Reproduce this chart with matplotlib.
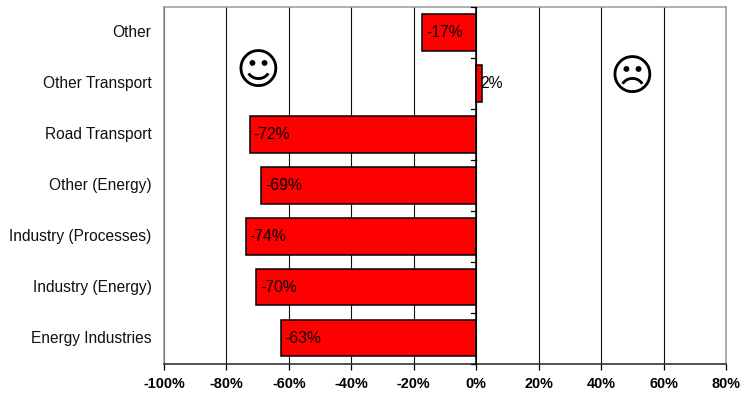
import matplotlib
matplotlib.use("Agg")
from matplotlib import pyplot as plt
from matplotlib.transforms import ScaledTranslation

categories = ["Energy Industries", "Industry (Energy)", "Industry (Processes)",
	"Other (Energy)", "Road Transport", "Other Transport", "Other"]
changes = [-62.6, -70.4, -73.8, -68.9, -72.5, 1.9, -17.3]
bar_labels = ["-63%", "-70%", "-74%", "-69%", "-72%", "2%", "-17%"]
x_ticks = [-100, -80, -60, -40, -20, 0, 20, 40, 60, 80]

plt.rcParams['font.family'] = ['Liberation Sans', 'DejaVu Sans']

W, H = 741, 396
fig = plt.figure(figsize=(W / 100, H / 100), dpi=100)
ax = fig.add_axes([164 / W, 1 - 363.5 / H, 562 / W, 356.5 / H])

ax.set_xlim(-100, 80)
ax.set_ylim(-0.5, 6.5)

# vertical gridlines go under the bars
ax.set_axisbelow(True)
ax.grid(True, axis='x', color='#111111', linewidth=0.8)

pos = range(len(categories))
ax.barh(pos, changes, height=0.72, color='#ff0000', edgecolor='black', linewidth=1.1, zorder=3)

# the category axis sits on the zero line
ax.axvline(0, color='black', linewidth=1.1, zorder=4)
for i in range(len(categories) + 1):
	ax.plot([-1.6, 0], [i - 0.5, i - 0.5], color='black', linewidth=0.9, zorder=4, clip_on=False)

for i, val in enumerate(changes):
	start = val if val < 0 else 0
	ax.text(start + 1.2 if val < 0 else val - 0.6, i, bar_labels[i], fontsize=11.3,
		ha='left', va='center', color='black', zorder=5)

ax.set_yticks(list(pos))
ax.set_yticklabels(categories, fontsize=11.2, color='#111111')
ax.tick_params(axis='y', length=0, pad=9)

# nudge the category names up a pixel
nudge = ScaledTranslation(0, 1 / 100, fig.dpi_scale_trans)
for label in ax.get_yticklabels():
	label.set_transform(label.get_transform() + nudge)

ax.set_xticks(x_ticks)
ax.set_xticklabels([str(t) + "%" for t in x_ticks], fontsize=10.4, fontweight='bold')
ax.tick_params(axis='x', length=4, width=0.9, pad=6)

for side in ['top', 'left', 'right']:
	ax.spines[side].set_color('#999999')
	ax.spines[side].set_linewidth(1.1)
ax.spines['bottom'].set_color('#222222')
ax.spines['bottom'].set_linewidth(1.1)

# faces either side of the zero line
ax.text(-69.8, 5.215, "\u263A", fontsize=31, family='DejaVu Sans', ha='center', va='center', zorder=5)
ax.text(50, 5.11, "\u2639", fontsize=31, family='DejaVu Sans', ha='center', va='center', zorder=5)

fig.savefig("out.png", dpi=100)
